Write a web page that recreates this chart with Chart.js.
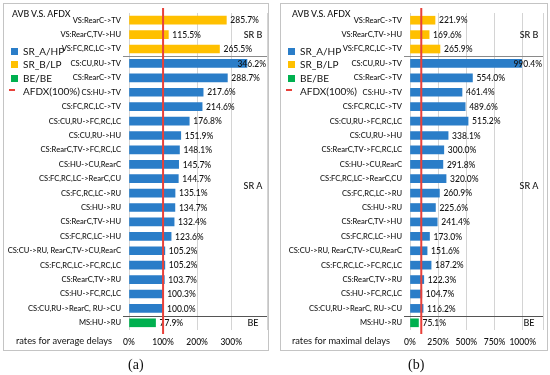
<!DOCTYPE html>
<html><head><meta charset="utf-8">
<script src="https://cdn.jsdelivr.net/npm/chart.js@4.4.1/dist/chart.umd.min.js"></script>
<style>
html,body{margin:0;padding:0;background:#fff;}
body{width:550px;height:375px;position:relative;overflow:hidden;font-family:Lato,"Liberation Sans",sans-serif;color:#111;}
.box{position:absolute;border:1px solid #c4c4c4;box-sizing:border-box;}
.cv{position:absolute;top:0;width:275px;height:375px;}
.t{position:absolute;white-space:nowrap;line-height:1;}
.sq{position:absolute;width:7px;height:7px;}
.cap{position:absolute;font-family:"Liberation Serif","DejaVu Serif",serif;font-size:14px;line-height:1;}
</style></head>
<body>
<div class="box" style="left:3px;top:3px;width:266px;height:348px;"></div>
<div class="box" style="left:280px;top:3px;width:268px;height:348px;"></div>
<div class="cv" style="left:0"><canvas id="ca"></canvas></div>
<div class="cv" style="left:275px"><canvas id="cb"></canvas></div>

<div class="t" style="left:12px;top:10px;font-size:8.8px;font-weight:500;">AVB V.S. AFDX</div>
<div class="sq" style="left:11px;top:48px;background:#2a7dc8"></div><div class="t" style="left:23px;top:46px;font-size:10px;">SR_A/HP</div>
<div class="sq" style="left:11px;top:61px;background:#ffc000"></div><div class="t" style="left:23px;top:59px;font-size:10px;">SR_B/LP</div>
<div class="sq" style="left:11px;top:75px;background:#00b050"></div><div class="t" style="left:23px;top:73px;font-size:10px;">BE/BE</div>
<div class="sq" style="left:9px;top:89px;width:6px;height:2px;background:#e8413a"></div><div class="t" style="left:23px;top:86px;font-size:10px;">AFDX(100%)</div>
<div class="t" style="left:16px;top:336px;font-size:9.3px;">rates for average delays</div>
<div class="cap" style="left:128px;top:358px;">(a)</div>

<div class="t" style="left:292px;top:10px;font-size:8.8px;font-weight:500;">AVB V.S. AFDX</div>
<div class="sq" style="left:288px;top:48px;background:#2a7dc8"></div><div class="t" style="left:300px;top:46px;font-size:10px;">SR_A/HP</div>
<div class="sq" style="left:288px;top:61px;background:#ffc000"></div><div class="t" style="left:300px;top:59px;font-size:10px;">SR_B/LP</div>
<div class="sq" style="left:288px;top:75px;background:#00b050"></div><div class="t" style="left:300px;top:73px;font-size:10px;">BE/BE</div>
<div class="sq" style="left:286px;top:89px;width:6px;height:2px;background:#e8413a"></div><div class="t" style="left:300px;top:86px;font-size:10px;">AFDX(100%)</div>
<div class="t" style="left:292px;top:336px;font-size:9.3px;">rates for maximal delays</div>
<div class="cap" style="left:408px;top:358px;">(b)</div>

<script>
const categories = [
  'VS:RearC->TV','VS:RearC,TV->HU','VS:FC,RC,LC->TV',
  'CS:CU,RU->TV','CS:RearC->TV','CS:HU->TV','CS:FC,RC,LC->TV',
  'CS:CU,RU->FC,RC,LC','CS:CU,RU->HU','CS:RearC,TV->FC,RC,LC','CS:HU->CU,RearC',
  'CS:FC,RC,LC->RearC,CU','CS:FC,RC,LC->RU','CS:HU->RU','CS:RearC,TV->HU',
  'CS:FC,RC,LC->HU','CS:CU->RU, RearC,TV->CU,RearC','CS:FC,RC,LC->FC,RC,LC',
  'CS:RearC,TV->RU','CS:HU->FC,RC,LC','CS:CU,RU->RearC, RU->CU','MS:HU->RU'
];
const groups = ['SR B','SR B','SR B',
  'SR A','SR A','SR A','SR A','SR A','SR A','SR A','SR A','SR A','SR A','SR A','SR A','SR A','SR A','SR A','SR A','SR A','SR A',
  'BE'];
const avgRates = [285.7,115.5,265.5,346.2,288.7,217.6,214.6,176.8,151.9,148.1,145.7,144.7,135.1,134.7,132.4,123.6,105.2,105.2,103.7,100.3,100.0,77.9];
const maxRates = [221.9,169.6,265.9,990.4,554.0,461.4,489.6,515.2,338.1,300.0,291.8,320.0,260.9,225.6,241.4,173.0,151.6,187.2,122.3,104.7,116.2,75.1];
const avgTicks = [0,100,200,300];
const maxTicks = [0,250,500,750,1000];
const afdxRef = 100;

const groupColors = {'SR A':'#2a7dc8','SR B':'#ffc000','BE':'#00b050'};
const FONT = 'Lato,"Liberation Sans",sans-serif';

const overlay = {
  id:'overlay',
  afterDatasetsDraw(chart){
    const {ctx, chartArea:a, scales:{x,y}} = chart;
    const vals = chart.data.datasets[0].data;
    ctx.save();
    ctx.font = '500 8.5px ' + FONT;
    ctx.fillStyle = '#111';
    ctx.textBaseline = 'middle';
    const meta = chart.getDatasetMeta(0);
    meta.data.forEach((bar,i)=>{
      const txt = vals[i].toFixed(1) + '%';
      const w = ctx.measureText(txt).width;
      let lx = bar.x + 4;
      if (lx + w > a.right - 1) lx = a.right - 1 - w;
      ctx.fillText(txt, lx, bar.y + 0.5);
    });
    const sep = (i, color) => {
      const yy = Math.round((y.getPixelForValue(i) + y.getPixelForValue(i+1))/2) + 0.5;
      ctx.strokeStyle = color; ctx.lineWidth = 1.2;
      ctx.beginPath(); ctx.moveTo(a.left - 6, yy); ctx.lineTo(a.right, yy); ctx.stroke();
    };
    for (let i = 0; i < groups.length - 1; i++) {
      if (groups[i] !== groups[i+1]) sep(i, groups[i+1] === 'BE' ? '#555' : '#8a8a8a');
    }
    ctx.font = '500 9px ' + FONT;
    ctx.textAlign = 'center';
    const names = [...new Set(groups)];
    names.forEach(g=>{
      const idx = groups.map((v,i)=>v===g?i:-1).filter(i=>i>=0);
      const yy = (y.getPixelForValue(idx[0]) + y.getPixelForValue(idx[idx.length-1]))/2;
      ctx.fillText(g, a.right - 14, yy);
    });
    const rx = x.getPixelForValue(afdxRef);
    ctx.strokeStyle = '#e8413a'; ctx.lineWidth = 2;
    ctx.beginPath(); ctx.moveTo(rx, a.top - 5); ctx.lineTo(rx, a.bottom + 4); ctx.stroke();
    ctx.restore();
  }
};

function makeChart(id, values, xMax, tickList, padLeft, padRight){
  return new Chart(document.getElementById(id), {
    type:'bar',
    data:{ labels:categories, datasets:[{ data:values, backgroundColor:groups.map(g=>groupColors[g]), barThickness:8 }] },
    options:{
      indexAxis:'y', responsive:true, maintainAspectRatio:false, animation:false,
      layout:{ padding:{ left:padLeft, right:padRight, top:13, bottom:25 } },
      plugins:{ legend:{display:false}, tooltip:{enabled:false} },
      scales:{
        y:{ grid:{display:false, drawTicks:false}, border:{display:false},
            ticks:{ autoSkip:false, padding:8, color:'#111', font:{family:FONT, size:7.6, weight:'500'} },
            afterFit:s=>{ s.width = 125; } },
        x:{ min:0, max:xMax, grid:{color:'#d4d4d4', drawTicks:false}, border:{display:false},
            afterBuildTicks:s=>{ s.ticks = tickList.concat([xMax]).map(v=>({value:v})); },
            ticks:{ padding:7, color:'#111', font:{family:FONT, size:8.5, weight:'500'}, autoSkip:false, maxRotation:0, minRotation:0,
                    callback:v=> tickList.includes(v) ? v + '%' : '' },
            afterFit:s=>{ s.height = 20; } }
      }
    },
    plugins:[overlay]
  });
}
makeChart('ca', avgRates, 405, avgTicks, 4, 8);
makeChart('cb', maxRates, 1180, maxTicks, 10, 3);
</script>
</body></html>
